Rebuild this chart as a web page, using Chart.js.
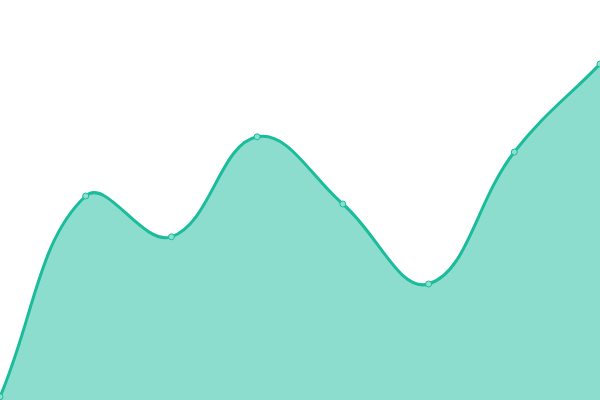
<!DOCTYPE html>
<html>
<head>
<meta charset="utf-8">
<script src="https://cdn.jsdelivr.net/npm/chart.js@4"></script>
<style>
  html, body { margin: 0; padding: 0; background: #fff; }
  #wrap { width: 600px; height: 400px; }
</style>
</head>
<body>
<div id="wrap"><canvas id="chart"></canvas></div>
<script>
// values (axis hidden, 0..100)
const labels = ['1', '2', '3', '4', '5', '6', '7', '8'];
const values = [0.8, 51, 40.8, 65.8, 49, 29, 62, 84];

const lineColor = '#1abc9c';
const fillColor = 'rgba(26, 188, 156, 0.5)';

new Chart(document.getElementById('chart'), {
    type: 'line',
    data: {
        labels: labels,
        datasets: [{
            data: values,
            borderColor: lineColor,
            backgroundColor: fillColor,
            fill: 'origin',
            borderWidth: 3,
            tension: 0.4,
            pointRadius: 3,
            pointBorderWidth: 1,
            pointBackgroundColor: '#8ae0cf',
            pointBorderColor: lineColor
        }]
    },
    options: {
        responsive: true,
        maintainAspectRatio: false,
        animation: false,
        layout: { padding: 0, autoPadding: false },
        plugins: {
            legend: { display: false },
            tooltip: { enabled: false }
        },
        scales: {
            x: { display: false },
            y: { display: false, min: 0, max: 100 }
        }
    }
});
</script>
</body>
</html>
